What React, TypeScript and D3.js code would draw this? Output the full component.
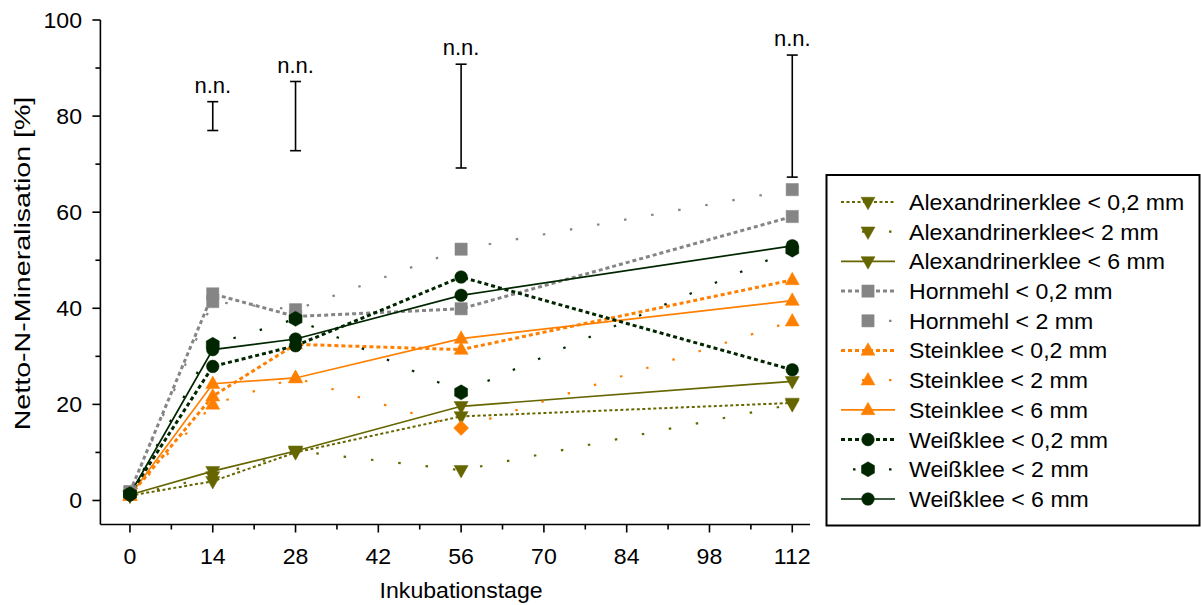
import React from "react";
import * as d3 from "d3";

// Sampling days (Inkubationstage)
const days = [0, 14, 28, 56, 112];

// Net N mineralisation [%] per treatment
const alexandriner02 = [1.0, 4.0, 10.0, 17.5, 20.3];
const alexandriner2 = [1.0, 5.0, 10.3, 6.3, 20.0];
const alexandriner6 = [1.2, 6.1, 10.3, 19.6, 24.8];
const hornmehl02 = [1.8, 43.0, 38.3, 39.9, 59.1];
const hornmehl2 = [1.8, 41.4, 39.7, 52.3, 64.7];
const steinklee02 = [1.0, 21.7, 32.5, 31.4, 45.9];
const steinklee2 = [1.0, 20.0, 25.5, 15.1, 37.3];
const steinklee6 = [1.0, 24.3, 25.5, 33.7, 41.6];
const weissklee02 = [1.3, 27.9, 32.2, 46.5, 27.2];
const weissklee2 = [1.3, 32.4, 37.8, 22.5, 52.2];
const weissklee6 = [1.3, 31.4, 33.6, 42.7, 53.0];

// Range bars labelled "n.n."
const rangeDays = [14, 28, 56, 112];
const rangeMean = [80, 80, 80, 80];
const rangeHalf = [3.0, 7.2, 10.8, 12.7];
const rangeLabel = "n.n.";

const xTicksMajor = [0, 14, 28, 42, 56, 70, 84, 98, 112];
const xTicksMinor = [7, 21, 35, 49, 63, 77, 91, 105];
const yTicksMajor = [0, 20, 40, 60, 80, 100];
const yTicksMinor = [10, 30, 50, 70, 90];

const xTitle = "Inkubationstage";
const yTitle = "Netto-N-Mineralisation [%]";

const OLIVE = "#666600";
const GRAY = "#858585";
const ORANGE = "#ff8000";
const DARK = "#002600";

type Style = "dot" | "sparse" | "solid";
type Marker = "down" | "up" | "square" | "circle" | "hex" | "diamond";

interface Series {
  label: string;
  values: number[];
  color: string;
  style: Style;
  marker: Marker;
  pointMarkers?: Marker[];
  dotWidth?: number;
}

const series: Series[] = [
  { label: "Alexandrinerklee < 0,2 mm", values: alexandriner02, color: OLIVE, style: "dot", marker: "down", dotWidth: 2 },
  { label: "Alexandrinerklee< 2 mm", values: alexandriner2, color: OLIVE, style: "sparse", marker: "down" },
  { label: "Alexandrinerklee < 6 mm", values: alexandriner6, color: OLIVE, style: "solid", marker: "down" },
  { label: "Hornmehl < 0,2 mm", values: hornmehl02, color: GRAY, style: "dot", marker: "square" },
  { label: "Hornmehl < 2 mm", values: hornmehl2, color: GRAY, style: "sparse", marker: "square" },
  { label: "Steinklee < 0,2 mm", values: steinklee02, color: ORANGE, style: "dot", marker: "up" },
  { label: "Steinklee < 2 mm", values: steinklee2, color: ORANGE, style: "sparse", marker: "up", pointMarkers: ["up", "up", "up", "diamond", "up"] },
  { label: "Steinklee < 6 mm", values: steinklee6, color: ORANGE, style: "solid", marker: "up" },
  { label: "Weißklee < 0,2 mm", values: weissklee02, color: DARK, style: "dot", marker: "circle" },
  { label: "Weißklee < 2 mm", values: weissklee2, color: DARK, style: "sparse", marker: "hex" },
  { label: "Weißklee < 6 mm", values: weissklee6, color: DARK, style: "solid", marker: "circle" },
];

const FONT = "'Liberation Sans', Arial, sans-serif";
const FS = 22;
const STRETCH = 1.05;

const x = d3.scaleLinear().domain([-5, 115]).range([100.4, 810]);
const y = d3.scaleLinear().domain([-5, 100]).range([524.5, 20]);

function markerPath(m: Marker): string {
  switch (m) {
    case "down":
    case "up": {
      const w = 14, h = 12.5;
      return d3.line()([[-w / 2, -h / 2 + 1.5], [w / 2, -h / 2 + 1.5], [0, h / 2 + 1.5]])! + "Z";
    }
    case "square":
      return d3.symbol(d3.symbolSquare, 150)()!;
    case "circle":
      return d3.symbol(d3.symbolCircle, 125)()!;
    case "diamond": {
      const r = 7.5;
      return `M0,${-r}L${r},0L0,${r}L${-r},0Z`;
    }
    case "hex": {
      const r = 7.5;
      const pts = d3.range(6).map((i) => {
        const a = (Math.PI / 3) * i - Math.PI / 2;
        return [r * Math.cos(a), r * Math.sin(a)] as [number, number];
      });
      return d3.line()(pts)! + "Z";
    }
  }
}

function MarkerShape({ m, cx, cy, color }: { m: Marker; cx: number; cy: number; color: string }) {
  const rot = m === "up" ? " rotate(180)" : "";
  return <path d={markerPath(m)} transform={`translate(${cx},${cy})${rot}`} fill={color} stroke={color} strokeWidth={0.5} />;
}

function lineProps(s: Series) {
  if (s.style === "solid") return { strokeWidth: 1.7 };
  if (s.style === "dot") return { strokeWidth: s.dotWidth ?? 3, strokeDasharray: s.dotWidth ? "3,2.5" : "4,3" };
  return { strokeWidth: 2.2, strokeDasharray: "2.5,25" };
}

// Text drawn slightly wider than the font's natural width
function Label({
  x0, y0, children, anchor = "start", rotate = 0, sx = STRETCH, size = FS, dy = "0",
}: {
  x0: number; y0: number; children: React.ReactNode; anchor?: "start" | "middle" | "end";
  rotate?: number; sx?: number; size?: number; dy?: string;
}) {
  return (
    <text
      transform={`translate(${x0},${y0}) rotate(${rotate}) scale(${sx},1)`}
      textAnchor={anchor}
      fontSize={size}
      dy={dy}
      fill="#000"
      stroke="none"
    >
      {children}
    </text>
  );
}

export default function App() {
  const line = d3
    .line<number>()
    .x((_, i) => x(days[i]))
    .y((v) => y(v));

  const legendX = 826.5;
  const legendY = 175;
  const legendW = 373;
  const legendH = 350.5;
  const rowY = (i: number) => 202 + i * 29.7;

  const x0 = x.range()[0];
  const yBase = y.range()[0];

  return (
    <svg width={1201} height={605} style={{ position: "absolute", left: 0, top: 0, background: "#fff" }} fontFamily={FONT}>
      {/* axes */}
      <g stroke="#000" strokeWidth={1.6} fill="none">
        <line x1={x0} x2={x0} y1={y(100)} y2={yBase} />
        <line x1={x0} x2={x.range()[1]} y1={yBase} y2={yBase} />
        {yTicksMajor.map((t) => (
          <line key={"ym" + t} x1={x0 - 8} x2={x0} y1={y(t)} y2={y(t)} />
        ))}
        {yTicksMinor.map((t) => (
          <line key={"yn" + t} x1={x0 - 5} x2={x0} y1={y(t)} y2={y(t)} />
        ))}
        {xTicksMajor.map((t) => (
          <line key={"xm" + t} x1={x(t)} x2={x(t)} y1={yBase} y2={yBase + 8} />
        ))}
        {xTicksMinor.map((t) => (
          <line key={"xn" + t} x1={x(t)} x2={x(t)} y1={yBase} y2={yBase + 5} />
        ))}
      </g>
      <g>
        {yTicksMajor.map((t) => (
          <Label key={"yl" + t} x0={82} y0={y(t)} dy="0.36em" anchor="end">
            {t}
          </Label>
        ))}
        {xTicksMajor.map((t) => (
          <Label key={"xl" + t} x0={x(t)} y0={564} anchor="middle">
            {t}
          </Label>
        ))}
        <Label x0={x(56)} y0={598} anchor="middle">
          {xTitle}
        </Label>
        <Label x0={30} y0={263.5} rotate={-90} anchor="middle" sx={1.3}>
          {yTitle}
        </Label>
      </g>

      {/* range bars */}
      <g stroke="#000" strokeWidth={1.6}>
        {rangeDays.map((d, i) => {
          const top = y(rangeMean[i] + rangeHalf[i]);
          const bot = y(rangeMean[i] - rangeHalf[i]);
          return (
            <g key={"rb" + d}>
              <line x1={x(d)} x2={x(d)} y1={top} y2={bot} />
              <line x1={x(d) - 5.5} x2={x(d) + 5.5} y1={top} y2={top} />
              <line x1={x(d) - 5.5} x2={x(d) + 5.5} y1={bot} y2={bot} />
              <Label x0={x(d)} y0={top - 9} anchor="middle" size={22} sx={1.0}>
                {rangeLabel}
              </Label>
            </g>
          );
        })}
      </g>

      {/* series lines */}
      <g fill="none">
        {series.map((s) => (
          <path key={"l" + s.label} d={line(s.values)!} stroke={s.color} {...lineProps(s)} />
        ))}
      </g>
      {/* series markers */}
      <g>
        {series.map((s) =>
          s.values.map((v, i) => (
            <MarkerShape key={s.label + i} m={s.pointMarkers ? s.pointMarkers[i] : s.marker} cx={x(days[i])} cy={y(v)} color={s.color} />
          ))
        )}
      </g>

      {/* legend */}
      <rect x={legendX} y={legendY} width={legendW} height={legendH} fill="#fff" stroke="#000" strokeWidth={2} />
      {series.map((s, i) => (
        <g key={"lg" + s.label}>
          {s.style === "sparse" ? (
            <line
              x1={s.marker === "hex" ? 853 : 862}
              x2={895}
              y1={rowY(i)}
              y2={rowY(i)}
              stroke={s.color}
              strokeWidth={2.2}
              strokeDasharray={s.marker === "hex" ? "2.5,33.5" : "2.5,24.5"}
            />
          ) : (
            <line x1={841} x2={895} y1={rowY(i)} y2={rowY(i)} stroke={s.color} {...lineProps(s)} />
          )}
          <MarkerShape m={s.marker} cx={868} cy={rowY(i)} color={s.color} />
          <Label x0={909} y0={rowY(i)} dy="0.36em">
            {s.label}
          </Label>
        </g>
      ))}
    </svg>
  );
}
